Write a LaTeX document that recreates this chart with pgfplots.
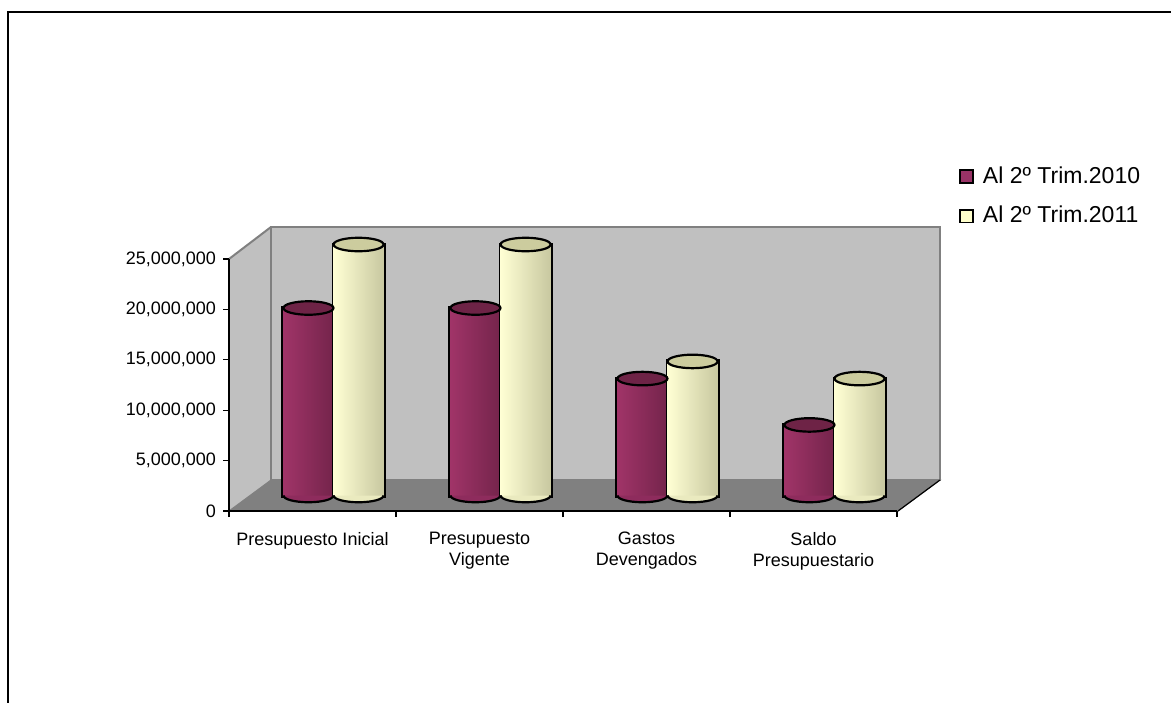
\documentclass[border=0pt]{standalone}
\usepackage{pgfplots}
\pgfplotsset{compat=1.18}
\usepackage{fontspec}
\setmainfont{Liberation Sans}
\definecolor{wallgray}{HTML}{C0C0C0}
\definecolor{edgegray}{HTML}{808080}
\definecolor{floorgray}{HTML}{808080}
\definecolor{mL}{HTML}{A03468}
\definecolor{mM}{HTML}{8E2C5D}
\definecolor{mR}{HTML}{74244B}
\definecolor{mT}{HTML}{6E2346}
\definecolor{yL}{HTML}{FFFFD4}
\definecolor{yM}{HTML}{EAEABF}
\definecolor{yR}{HTML}{C8C8A0}
\definecolor{yT}{HTML}{CCCC9E}
\definecolor{legM}{HTML}{993366}
\definecolor{legY}{HTML}{FFFFCC}
% lower half ellipse mark: filled, only the arc stroked
\pgfdeclareplotmark{lowhalf}{%
  \pgfpathmoveto{\pgfqpoint{-\pgfplotmarksize}{0pt}}%
  \pgfpatharc{180}{360}{\pgfplotmarksize}%
  \pgfpathclose\pgfusepathqfill
  \pgfpathmoveto{\pgfqpoint{-\pgfplotmarksize}{0pt}}%
  \pgfpatharc{180}{360}{\pgfplotmarksize}%
  \pgfusepathqstroke}
% x, value, left, middle, right, top
\newcommand{\cyl}[6]{%
 \addplot[ybar, bar width=0.3, bar shift=0, draw=black, line width=2pt, left color=#3, middle color=#4, right color=#5] coordinates {(#1,#2)};
 \addplot[only marks, mark=lowhalf, mark size=12.5pt, mark options={yscale=0.27, fill=#4, draw=black, line width=1.1pt}] coordinates {(#1,0)};
 \addplot[ybar, bar width=0.3, bar shift=0, draw=none, left color=#3, middle color=#4, right color=#5] coordinates {(#1,#2)};
 \addplot[only marks, mark=*, mark size=12.5pt, mark options={yscale=0.27, fill=#6, draw=black, line width=1.1pt}] coordinates {(#1,#2)};
}
\begin{document}
\begin{tikzpicture}[x=0.5pt,y=0.5pt]
\path[use as bounding box] (0,0) rectangle (1171,702);
\draw[line width=1pt] (8,-20) -- (8,690) -- (1190,690);
% side wall
\fill[wallgray] (229,191) -- (229,443) -- (271,475) -- (271,222) -- cycle;
\draw[edgegray, line width=1pt] (229,443) -- (271,475);
% back wall
\filldraw[fill=wallgray, draw=edgegray, line width=1pt] (271,222) rectangle (940,475);
% floor
\filldraw[fill=floorgray, draw=floorgray, line width=0.5pt] (229,191) -- (898,191) -- (940,222) -- (271,222) -- cycle;
\draw[black, line width=0.6pt] (898,191) -- (940,222);

% bars (mid-depth plane)
\begin{axis}[
  at={(125pt,103.25pt)}, anchor=south west,
  scale only axis, width=334pt, height=126pt,
  xmin=-0.5, xmax=3.5, ymin=0, ymax=25000000,
  hide axis, clip=false]
\cyl{-0.15}{18600000}{mL}{mM}{mR}{mT}
\cyl{0.15}{24900000}{yL}{yM}{yR}{yT}
\cyl{0.85}{18600000}{mL}{mM}{mR}{mT}
\cyl{1.15}{24900000}{yL}{yM}{yR}{yT}
\cyl{1.85}{11600000}{mL}{mM}{mR}{mT}
\cyl{2.15}{13300000}{yL}{yM}{yR}{yT}
\cyl{2.85}{7000000}{mL}{mM}{mR}{mT}
\cyl{3.15}{11600000}{yL}{yM}{yR}{yT}
\end{axis}

% front axis
\begin{axis}[
  at={(114.5pt,95.5pt)}, anchor=south west,
  scale only axis, width=334pt, height=126pt,
  xmin=-0.5, xmax=3.5, ymin=0, ymax=25000000,
  axis x line*=bottom, axis y line*=left,
  axis line style={black, line width=0.6pt},
  tick style={black, line width=0.6pt},
  tick align=outside, major tick length=3pt,
  xtick={-0.5,0.5,1.5,2.5,3.5},
  x tick label as interval,
  xticklabels={Presupuesto Inicial,{Presupuesto\\Vigente},{Gastos\\Devengados},{Saldo\\Presupuestario}},
  xticklabel style={align=center, font=\fontsize{9}{10.5}\selectfont, yshift=-4pt},
  ytick={0,5000000,10000000,15000000,20000000,25000000},
  scaled y ticks=false,
  yticklabel style={font=\fontsize{9}{10.5}\selectfont, /pgf/number format/.cd, fixed, 1000 sep={,}, assume math mode=true},
  legend style={draw=none, fill=none, at={(1.085,1.40)}, anchor=north west,
    font=\fontsize{11.5}{13}\selectfont, row sep=6pt,
    /tikz/every odd column/.append style={column sep=3pt}},
  legend cell align=left,
  ]
\addlegendimage{only marks, mark=square*, mark size=3.2pt, mark options={fill=legM, draw=black, line width=0.8pt}}
\addlegendentry{Al 2º Trim.2010}
\addlegendimage{only marks, mark=square*, mark size=3.2pt, mark options={fill=legY, draw=black, line width=0.8pt}}
\addlegendentry{Al 2º Trim.2011}
\end{axis}
\end{tikzpicture}
\end{document}
